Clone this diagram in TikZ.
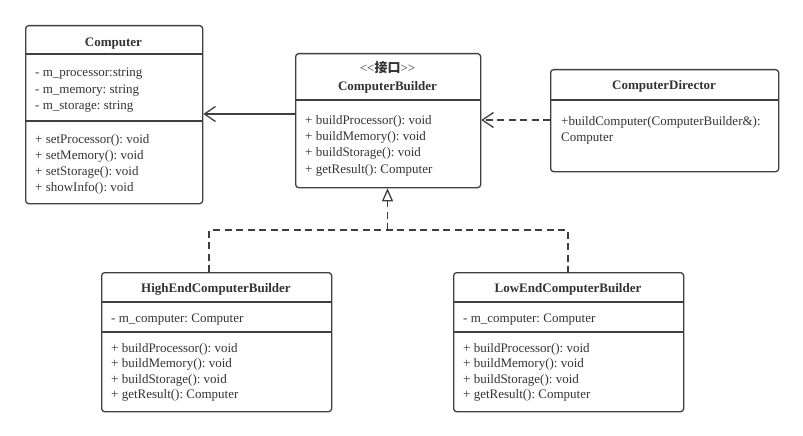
\documentclass[tikz,border=0pt]{standalone}
\usepackage{fontspec}
\setmainfont{Liberation Serif}
\newfontfamily\cjkfont{Noto Sans CJK SC}
\usetikzlibrary{arrows.meta}
\definecolor{stroke}{HTML}{3F3F3F}
\definecolor{txt}{HTML}{333333}
\frenchspacing
\tikzset{
  x=1pt, y=-1pt,
  classbox/.style={draw=stroke, line width=1.3pt, rounded corners=3pt, anchor=north west, inner sep=0pt},
  divider/.style={draw=stroke, line width=1.3pt},
  member/.style={anchor=base west, inner sep=0pt, text=txt, font=\fontsize{13}{16}\selectfont},
  title/.style={anchor=base, inner sep=0pt, text=txt, font=\fontsize{13}{16}\selectfont\bfseries},
  conn/.style={draw=stroke, line width=1.3pt},
  dashedconn/.style={conn, dash pattern=on 7pt off 4.5pt},
  assoc/.style={-{Straight Barb[length=11pt,width=15pt,line width=1.3pt]}},
  realize/.style={-{Triangle[open,length=13pt,width=11pt,line width=1.3pt,fill=white]}}
}
\begin{document}
\begin{tikzpicture}
\frenchspacing
\useasboundingbox[fill=white] (0,0) rectangle (803,436);

% Computer
\node[classbox, minimum width=177pt, minimum height=178pt] (computer) at (25,25) {};
\draw[divider] (25,54) -- (202,54);
\draw[divider] (25,121) -- (202,121);
\node[title] (computerT) at (113.5,47) {Computer};
\foreach \t [count=\i] in {- m\_processor:string, - m\_memory: string, - m\_storage: string}
  \node[member] (ca\i) at (35,{77+16.4*(\i-1)}) {\t};
\foreach \t [count=\i] in {+ setProcessor(): void, + setMemory(): void, + setStorage(): void, + showInfo(): void}
  \node[member] (cm\i) at (35,{143+16.3*(\i-1)}) {\t};

% ComputerBuilder
\node[classbox, minimum width=185pt, minimum height=134pt] (builder) at (295,53) {};
\draw[divider] (295,100) -- (480,100);
\node[title, font=\fontsize{13}{16}\selectfont] (builderS) at (387.5,73) {{<}{<}{\cjkfont\bfseries 接口}{>}{>}};
\node[title] (builderT) at (387.5,90) {ComputerBuilder};
\foreach \t [count=\i] in {+ buildProcessor(): void, + buildMemory(): void, + buildStorage(): void, + getResult(): Computer}
  \node[member] (bm\i) at (305,{124+16.4*(\i-1)}) {\t};

% ComputerDirector
\node[classbox, minimum width=228pt, minimum height=102pt] (director) at (550,69) {};
\draw[divider] (550,100) -- (778,100);
\node[title] (directorT) at (664,89) {ComputerDirector};
\node[member] (dm1) at (561,125) {+buildComputer(ComputerBuilder\&):};
\node[member] (dm2) at (561,141) {Computer};

% HighEndComputerBuilder
\node[classbox, minimum width=230pt, minimum height=139pt] (high) at (101,272) {};
\draw[divider] (101,302) -- (331,302);
\draw[divider] (101,332) -- (331,332);
\node[title] (highT) at (216,292) {HighEndComputerBuilder};
\node[member] (ha1) at (111,322) {- m\_computer: Computer};
\foreach \t [count=\i] in {+ buildProcessor(): void, + buildMemory(): void, + buildStorage(): void, + getResult(): Computer}
  \node[member] (hm\i) at (111,{352+15.6*(\i-1)}) {\t};

% LowEndComputerBuilder
\node[classbox, minimum width=230pt, minimum height=139pt] (low) at (453,272) {};
\draw[divider] (453,302) -- (683,302);
\draw[divider] (453,332) -- (683,332);
\node[title] (lowT) at (568,292) {LowEndComputerBuilder};
\node[member] (la1) at (463,322) {- m\_computer: Computer};
\foreach \t [count=\i] in {+ buildProcessor(): void, + buildMemory(): void, + buildStorage(): void, + getResult(): Computer}
  \node[member] (lm\i) at (463,{352+15.6*(\i-1)}) {\t};

% connectors
\draw[conn, assoc] (builder.west |- 0,114) -- (computer.east |- 0,114);
\draw[dashedconn, assoc] (director.west |- 0,120) -- (builder.east |- 0,120);
\coordinate (jL) at (209,230);
\coordinate (jR) at (568,230);
\coordinate (jM) at (387.5,230);
\draw[dashedconn] (high.north -| jL) -- (jL) -- (jR) -- (low.north -| jR);
\draw[dashedconn, realize] (jM) -- (builder.south -| jM);
\end{tikzpicture}
\end{document}
